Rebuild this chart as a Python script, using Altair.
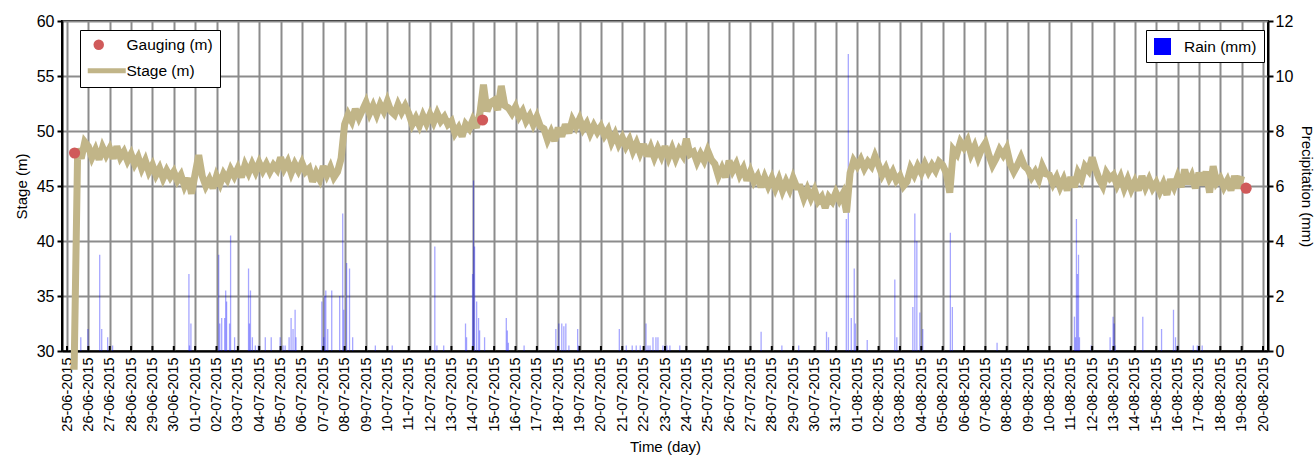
import altair as alt
import pandas as pd

FONT = "Liberation Sans"

# ---------------- data ----------------
stage_start = "2015-06-25 08:00"
stage_step = "4h"
stage_m = [
    28.3, 48.4, 47.5, 49.0,
    48.6, 47.6, 48.3, 47.4, 48.5, 47.8,
    48.4, 47.5, 48.6, 47.6, 48.1, 47.3,
    47.9, 47.0, 47.6, 46.6, 47.3, 46.3,
    46.9, 46.0, 46.6, 45.7, 46.4, 45.8,
    46.3, 45.5, 46.0, 45.0, 45.7, 44.3,
    46.1, 47.8, 45.9, 45.0, 45.6, 44.8,
    45.9, 45.2, 46.1, 45.6, 46.5, 45.9,
    46.6, 45.8, 46.9, 46.2, 47.0, 46.3,
    47.1, 46.4, 47.0, 46.3, 46.9, 46.5,
    47.6, 46.6, 47.2, 46.2, 47.0, 46.4,
    47.1, 46.3, 46.6, 45.4, 46.2, 45.6,
    46.8, 46.0, 46.7, 45.8, 46.3, 47.5,
    50.6, 51.5, 50.9, 52.0, 51.2, 51.9,
    52.6, 51.6, 52.3, 51.5, 52.4, 51.8,
    52.7, 51.8, 51.5, 52.4, 51.7, 52.3,
    51.6, 50.6, 51.2, 50.5, 51.4, 50.7,
    51.5, 50.8, 51.6, 50.9, 51.3, 50.6,
    50.9, 49.8, 50.3, 49.5, 50.6, 50.2,
    51.0, 50.3, 51.6, 54.2, 51.8, 52.6,
    52.8, 51.9, 54.1, 52.3, 52.1, 51.6,
    52.2, 51.3, 51.8, 50.9, 51.4, 50.6,
    51.3, 50.4, 50.2, 49.2, 49.9, 49.1,
    50.3, 49.5, 50.6, 49.8, 51.0, 50.4,
    51.1, 50.2, 50.7, 49.8, 50.5, 49.9,
    50.4, 49.6, 50.1, 49.0, 49.7, 48.8,
    49.4, 48.6, 49.2, 48.2, 48.9, 48.0,
    48.8, 47.7, 48.5, 47.6, 48.4, 47.7,
    48.6, 47.6, 48.4, 47.5, 48.3, 47.8,
    49.3, 47.9, 48.1, 47.2, 47.9, 47.3,
    48.2, 47.4, 47.0, 45.9, 46.6, 45.8,
    47.3, 46.4, 47.0, 46.0, 46.6, 45.5,
    46.3, 45.4, 45.9, 44.9, 45.8, 45.0,
    45.7, 44.8, 45.6, 44.6, 45.4, 44.7,
    45.7, 44.9, 44.9, 43.9, 44.7, 43.9,
    44.6, 43.6, 44.0, 43.0, 44.0, 43.6,
    44.4, 43.7, 44.3, 42.6, 46.2, 47.3,
    46.8, 47.4, 46.6, 47.2, 46.8, 47.7,
    46.9, 46.0, 46.6, 45.7, 46.3, 45.5,
    45.9, 45.0, 45.4, 46.6, 46.0, 46.8,
    46.2, 47.0, 46.3, 46.9, 46.4, 47.2,
    46.9, 46.2, 44.4, 48.3, 47.9, 49.0,
    48.5, 49.1, 47.9, 48.6, 47.6, 48.4,
    48.9, 47.8, 46.9, 47.5, 48.3, 47.8,
    48.4, 47.0, 46.3, 46.9, 47.6, 46.8,
    46.5, 45.8, 46.3, 45.6, 46.8, 46.1,
    46.0, 45.2, 45.8, 44.9, 45.6, 44.6,
    45.8, 44.9, 46.2, 45.6, 46.8, 46.4,
    47.6, 46.5, 45.6, 45.0, 46.2, 45.7,
    46.0, 45.1, 45.8, 44.8, 45.6, 44.7,
    45.4, 44.6, 45.9, 44.9, 45.6, 44.8,
    45.3, 44.5, 45.2, 44.2, 45.6, 44.9,
    45.8, 44.9, 46.5, 45.2, 45.9, 44.8,
    46.2, 45.1, 46.3, 44.4, 46.8, 45.3,
    45.7, 44.9, 45.5, 44.6, 45.9, 44.8,
    45.9,
]

gauge_time = ["2015-06-25 08:30", "2015-07-14 11:00", "2015-08-19 05:00"]
gauge_m = [48.0, 51.0, 44.8]

rain_time = [
    "2015-06-25 15:30", "2015-06-25 23:30", "2015-06-26 12:45", "2015-06-26 15:00", "2015-06-26 21:40", "2015-06-27 03:15",
    "2015-06-30 17:00", "2015-06-30 17:40", "2015-06-30 19:15",
    "2015-07-02 02:30", "2015-07-02 03:40", "2015-07-02 05:50", "2015-07-02 09:10", "2015-07-02 10:20", "2015-07-02 11:20", "2015-07-02 14:40", "2015-07-02 15:50", "2015-07-02 20:20",
    "2015-07-03 12:00", "2015-07-03 13:00", "2015-07-03 14:10", "2015-07-03 16:20", "2015-07-03 19:40", "2015-07-03 23:00",
    "2015-07-04 06:50", "2015-07-04 13:30", "2015-07-04 23:30",
    "2015-07-05 02:50", "2015-07-05 05:10", "2015-07-05 09:35", "2015-07-05 11:50", "2015-07-05 14:00", "2015-07-05 16:20", "2015-07-05 17:20",
    "2015-07-06 22:20", "2015-07-07 00:30", "2015-07-07 01:40", "2015-07-07 02:50", "2015-07-07 05:00", "2015-07-07 09:30", "2015-07-07 18:25", "2015-07-07 21:50", "2015-07-07 23:00",
    "2015-07-08 02:15", "2015-07-08 05:30", "2015-07-08 09:00", "2015-07-09 10:30", "2015-07-10 05:30",
    "2015-07-12 05:20", "2015-07-12 07:40", "2015-07-12 15:20",
    "2015-07-13 15:50", "2015-07-13 17:00", "2015-07-13 23:45", "2015-07-14 00:50", "2015-07-14 02:00", "2015-07-14 04:20", "2015-07-14 06:30", "2015-07-14 07:40", "2015-07-14 13:15",
    "2015-07-15 13:40", "2015-07-15 14:50", "2015-07-15 16:00", "2015-07-16 09:40",
    "2015-07-17 21:20", "2015-07-18 00:45", "2015-07-18 04:00", "2015-07-18 06:20", "2015-07-18 08:35", "2015-07-18 12:00", "2015-07-18 21:50", "2015-07-18 23:00",
    "2015-07-20 20:40", "2015-07-21 04:30", "2015-07-21 11:10", "2015-07-21 15:40", "2015-07-21 20:10",
    "2015-07-22 02:40", "2015-07-22 04:55", "2015-07-22 07:10", "2015-07-22 10:30", "2015-07-22 13:50", "2015-07-22 16:05", "2015-07-22 21:40", "2015-07-23 02:10", "2015-07-23 05:30", "2015-07-23 16:35",
    "2015-07-27 12:00", "2015-07-28 11:20", "2015-07-29 06:15", "2015-07-30 13:30", "2015-07-30 15:45",
    "2015-07-31 11:45", "2015-07-31 14:00", "2015-07-31 17:20", "2015-07-31 20:40", "2015-07-31 22:00", "2015-08-01 11:15",
    "2015-08-02 18:15", "2015-08-02 20:30", "2015-08-03 14:30", "2015-08-03 16:45", "2015-08-03 19:00", "2015-08-03 22:20", "2015-08-04 01:40",
    "2015-08-05 08:40", "2015-08-05 10:55", "2015-08-07 13:10",
    "2015-08-11 04:05", "2015-08-11 05:15", "2015-08-11 06:20", "2015-08-11 07:30", "2015-08-11 08:40", "2015-08-11 09:45", "2015-08-11 23:00",
    "2015-08-12 20:10", "2015-08-12 23:30", "2015-08-13 00:40", "2015-08-13 01:50",
    "2015-08-14 08:55", "2015-08-15 06:00", "2015-08-15 19:25", "2015-08-15 21:40", "2015-08-16 00:00", "2015-08-16 17:40", "2015-08-16 22:10", "2015-08-17 03:40",
]
rain_mm = [
    0.5, 0.8, 3.5, 0.8, 0.5, 0.2,
    2.8, 0.2, 1.0,
    3.5, 1.0, 1.2, 1.2, 2.2, 1.8, 1.0, 4.2, 0.5,
    3.0, 1.0, 2.2, 0.5, 0.2, 0.2,
    0.5, 0.5, 0.5,
    0.2, 0.2, 0.5, 1.2, 0.8, 1.5, 0.5,
    1.8, 0.5, 2.0, 2.2, 0.8, 2.2, 2.0, 5.0, 1.5,
    3.2, 3.0, 0.5, 0.2, 0.2,
    3.8, 0.2, 0.2,
    1.0, 0.5, 2.8, 6.2, 3.8, 1.8, 1.2, 0.75, 0.5,
    1.2, 0.75, 0.3, 0.2,
    0.8, 1.0, 1.0, 0.9, 1.0, 0.2, 0.8, 0.2,
    0.8, 0.2, 0.2, 0.2, 0.2,
    1.0, 0.2, 0.2, 0.5, 0.5, 0.5, 0.2, 0.2, 0.2, 0.2,
    0.7, 0.2, 0.2, 0.7, 0.5,
    4.8, 10.8, 1.2, 3.0, 1.0, 0.4,
    2.6, 0.5, 1.6, 5.0, 4.0, 1.4, 0.8,
    4.3, 1.6, 0.3,
    1.25, 0.5, 4.8, 2.8, 3.5, 0.5, 0.2,
    0.5, 1.25, 1.0, 0.2,
    1.25, 0.8, 1.5, 0.5, 0.2, 0.2, 0.2, 0.2,
]

stage_axis_values = [30, 35, 40, 45, 50, 55, 60]
rain_axis_values = [0, 2, 4, 6, 8, 10, 12]

STAGE_COLOR = "#c1b588"
GAUGE_COLOR = "#d05a5a"
RAIN_COLOR = "#0000ff"

ISO = "%Y-%m-%dT%H:%M:%SZ"
stage_df = pd.DataFrame({
    "t": pd.date_range(stage_start, periods=len(stage_m), freq=stage_step).strftime(ISO),
    "stage": stage_m,
})
gauge_df = pd.DataFrame({
    "t": pd.to_datetime(gauge_time).strftime(ISO),
    "stage": gauge_m,
    "series": ["Gauging (m)"] * len(gauge_m),
})
rain_df = pd.DataFrame({
    "t": pd.to_datetime(rain_time).strftime(ISO),
    "rain": rain_mm,
    "series": ["Rain (mm)"] * len(rain_mm),
})
ticks_df = pd.DataFrame({
    "t": pd.date_range("2015-06-25", "2015-08-20", freq="D").strftime(ISO)
})

PLOT_W, PLOT_H = 1206, 330

# ---------------- scales / axes ----------------
x_scale = alt.Scale(
    type="utc",
    domain=[alt.DateTime(year=2015, month=6, date=25, utc=True),
            alt.DateTime(year=2015, month=8, date=20, utc=True)],
    nice=False,
)
x_axis = alt.Axis(
    format="%d-%m-%Y", labelAngle=270, tickCount={"interval": "day", "step": 1},
    grid=True, ticks=False, labelPadding=6, labelFlush=False, labelOverlap=False,
    labelFontSize=14.5, title="Time (day)", titlePadding=8, titleFontSize=15,
)
X = alt.X("t:T", scale=x_scale, axis=x_axis)

stage_scale = alt.Scale(domain=[30, 60], nice=False, zero=False)
stage_axis = alt.Axis(values=stage_axis_values, title="Stage (m)", grid=True,
                      tickSize=5, labelPadding=3, titlePadding=7,
                      labelFontSize=16, titleFontSize=15)

rain_scale = alt.Scale(domain=[0, 12], nice=False)
rain_axis = alt.Axis(orient="right", values=rain_axis_values, title="Precipitation (mm)",
                     grid=False, tickSize=5, labelPadding=2, titlePadding=6,
                     labelFontSize=16, titleFontSize=15)

stage_legend = alt.Legend(
    orient="none", legendX=18, legendY=9, title=None,
    strokeColor="black", fillColor="white", padding=7, rowPadding=9,
    symbolSize=110, symbolOffset=4, labelOffset=20, symbolOpacity=1,
    symbolStrokeWidth=0, labelFontSize=15.5, labelFont=FONT,
)
rain_legend = alt.Legend(
    orient="none", legendX=1084, legendY=9, title=None,
    strokeColor="black", fillColor="white", padding=7,
    symbolType="square", symbolSize=289, symbolOffset=0, labelOffset=12,
    symbolOpacity=1, labelFontSize=15.5, labelFont=FONT,
)

# ---------------- layers ----------------
rain = alt.Chart(rain_df).mark_bar(size=1.3, opacity=0.35).encode(
    x=X,
    y=alt.Y("rain:Q", scale=rain_scale, axis=rain_axis),
    color=alt.Color("series:N", scale=alt.Scale(domain=["Rain (mm)"], range=[RAIN_COLOR]),
                    legend=rain_legend),
)

line = alt.Chart(stage_df).mark_line(color=STAGE_COLOR, strokeWidth=7, strokeJoin="miter",
                                     strokeMiterLimit=3).encode(
    x=X,
    y=alt.Y("stage:Q", scale=stage_scale, axis=stage_axis),
)

series_domain = ["Gauging (m)", "Stage (m)"]
points = alt.Chart(gauge_df).mark_point(filled=True, size=125, opacity=1).encode(
    x=X,
    y=alt.Y("stage:Q", scale=stage_scale, axis=stage_axis),
    color=alt.Color("series:N", scale=alt.Scale(domain=series_domain, range=[GAUGE_COLOR, STAGE_COLOR]),
                    legend=stage_legend),
    shape=alt.Shape("series:N", scale=alt.Scale(domain=series_domain,
                                                range=["circle", "M-2.1,-0.5H5.15V0.5H-2.1Z"]),
                    legend=stage_legend),
)

day_ticks = alt.Chart(ticks_df).mark_rule(color="black", strokeWidth=2).encode(
    x=X,
    y=alt.value(PLOT_H - 5),
    y2=alt.value(PLOT_H),
)

stage_group = alt.layer(line, points)

chart = alt.layer(rain, stage_group, day_ticks).resolve_scale(
    y="independent", color="independent", shape="independent"
).properties(
    width=PLOT_W, height=PLOT_H,
    autosize=alt.AutoSizeParams(type="none"),
    padding={"left": 62, "top": 21, "right": 48, "bottom": 104},
).configure_view(
    stroke="black", strokeWidth=2,
).configure_axis(
    domainColor="black", domainWidth=2, tickColor="black", tickWidth=2,
    labelColor="black", titleColor="black", labelFont=FONT, titleFont=FONT,
    titleFontWeight="normal", gridColor="#8c8c8c", gridWidth=2, gridOpacity=1,
).configure_legend(
    labelColor="black",
)

chart.save("out.html", embed_options={"renderer": "svg", "actions": False})
